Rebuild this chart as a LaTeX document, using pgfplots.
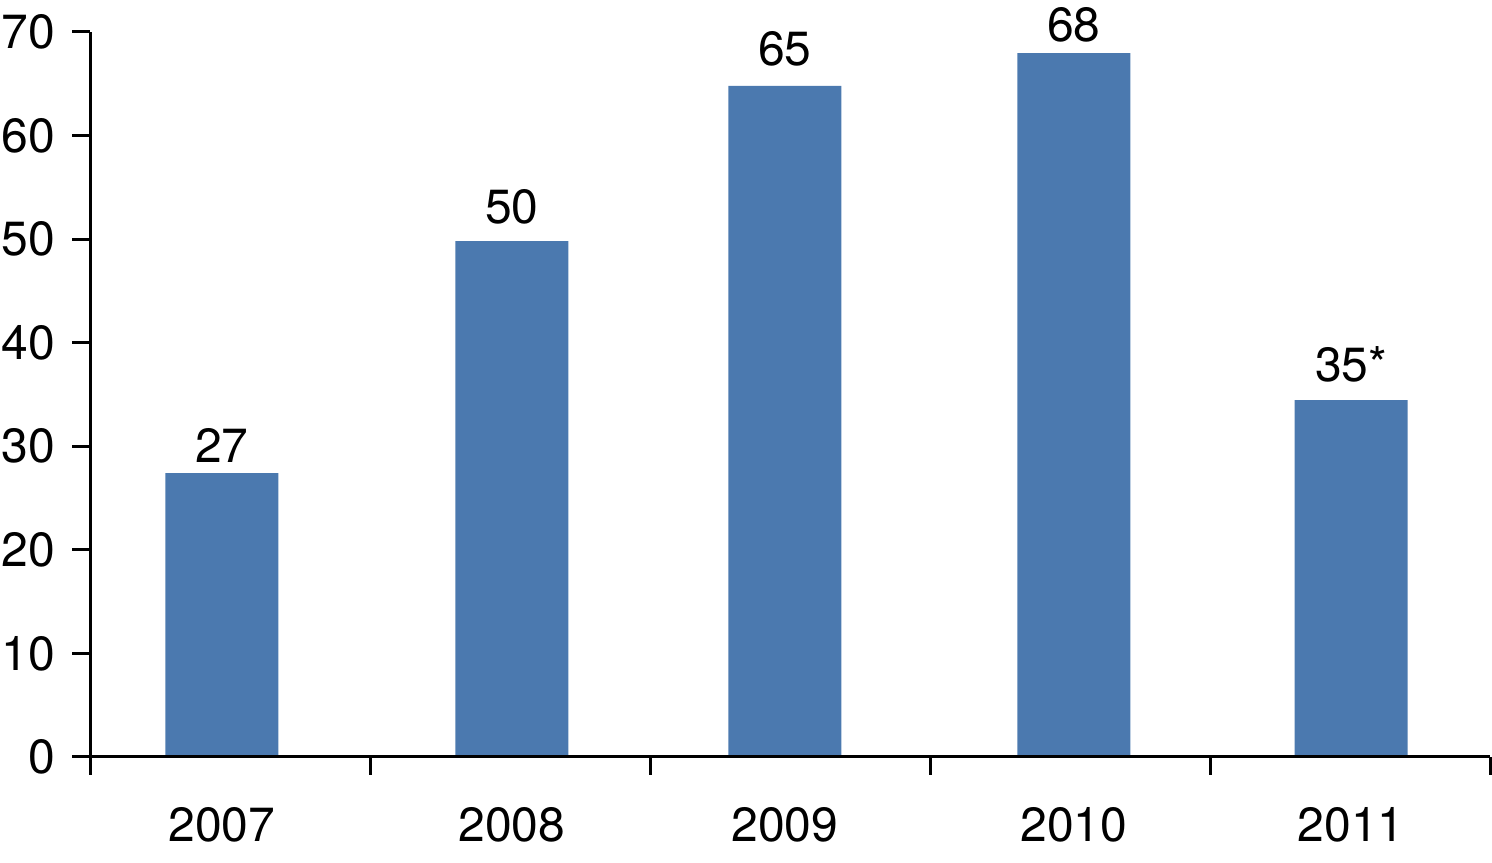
\documentclass[border=0pt]{standalone}
\usepackage{fontspec}
\setmainfont{TeX Gyre Heros}
\usepackage{pgfplots}
\pgfplotsset{compat=1.18}
\definecolor{barblue}{RGB}{75,121,175}

\begin{document}
\begin{tikzpicture}
\begin{axis}[
  scale only axis,
  width=350pt, height=181.25pt,
  xmin=-0.5, xmax=4.5,
  ymin=0, ymax=70,
  axis x line=bottom, axis y line=left,
  axis line style={-, line width=0.75pt},
  every tick/.style={line width=0.75pt, black},
  tick align=outside,
  major tick length=4.5pt,
  xtick={-0.5,0.5,1.5,2.5,3.5,4.5},
  xticklabels={},
  extra x ticks={-0.029,1.007,1.982,3.014,4.004},
  extra x tick labels={2007,2008,2009,2010,2011},
  extra x tick style={major tick length=0pt},
  ytick={0,10,...,70},
  font=\fontsize{12pt}{14pt}\selectfont,
  /pgf/number format/assume math mode=true,
  xticklabel style={anchor=north, inner sep=0pt, yshift=-12.5pt},
  yticklabel style={anchor=east, inner sep=0pt, xshift=-4pt},
  axis on top,
  clip=false,
]
\addplot[ybar, bar width=28.25pt, fill=barblue, draw=none,
  nodes near coords, point meta=explicit symbolic,
  every node near coord/.style={anchor=south, inner sep=0pt, yshift=2.5pt, black}]
  coordinates {(-0.029,27.4)[27] (1.007,49.8)[\raisebox{1.75pt}{50}] (1.982,64.8)[\raisebox{2.5pt}{65}]
               (3.014,67.95)[68] (4.004,34.45)[\raisebox{2pt}{35*}]};
\end{axis}
\pgfresetboundingbox
\path[use as bounding box] ([shift={(-22.5pt,-26.5pt)}]current axis.south west) rectangle ([shift={(0.5pt,8pt)}]current axis.north east);
\end{tikzpicture}
\end{document}
